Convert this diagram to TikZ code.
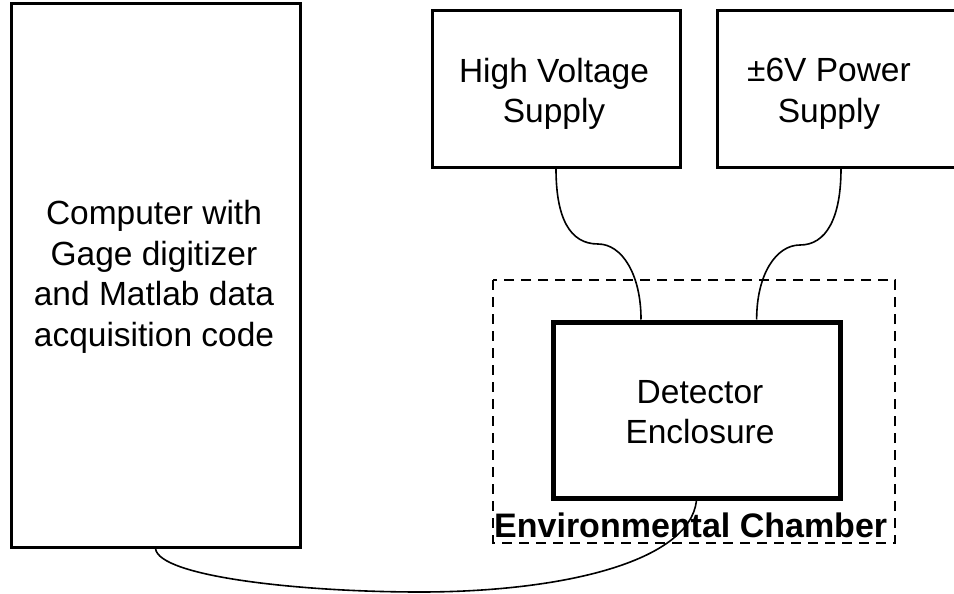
\documentclass[tikz,border=0pt]{standalone}
\usepackage{fontspec}
\setmainfont{Liberation Sans}
\usetikzlibrary{calc}
\tikzset{
  boxstyle/.style={draw=black, line width=3pt, inner sep=0pt, align=center,
    font=\fontsize{33.5}{40}\selectfont},
  boxtext/.style={align=center, inner sep=0pt, font=\fontsize{33.5}{40.5}\selectfont},
  detbox/.style={boxstyle, line width=5pt},
  cable/.style={draw=black, line width=1.6pt},
  chamber/.style={draw=black, line width=2pt, dash pattern=on 10pt off 7pt},
}
\begin{document}
\begin{tikzpicture}[x=1pt,y=-1pt]
\useasboundingbox (0,0) rectangle (954,594);
\clip (0,0) rectangle (954,594);
% boxes
\node[boxstyle, minimum width=289pt, minimum height=543pt] (pc) at (155.5,275.5) {};
\node[boxtext] (pctext) at (154,277)
  {Computer with\\Gage digitizer\\and Matlab data\\acquisition code};
\node[boxstyle, minimum width=248pt, minimum height=156pt] (hv) at (556,89) {};
\node[boxtext] (hvtext) at (554,94) {High Voltage\\Supply};
\node[boxstyle, minimum width=248pt, minimum height=156pt] (ps) at (841,89) {};
\node[boxtext] (pstext) at (829,94) {±6V Power\\Supply};
% chamber
\draw[chamber] (493,280) rectangle (895,543);
\node[anchor=base west, inner sep=0pt, font=\fontsize{34}{40}\selectfont\bfseries] (envlabel) at (494,537)
  {Environmental Chamber};
\node[detbox, minimum width=287pt, minimum height=176pt] (det) at (696.5,410) {};
\node[boxtext] (dettext) at (700,412) {Detector\\Enclosure};
% attachment points
\coordinate (dA) at ($(det.north west)!0.31!(det.north east)$);
\coordinate (dB) at ($(det.north west)!0.706!(det.north east)$);
\coordinate (dC) at ($(det.south west)!0.5!(det.south east)$);
% cables
\draw[cable] (hv.south) .. controls ++(0,50) and (570,244) .. (598,244)
  .. controls (622,244) and ($(dA)+(0,-45)$) .. (dA);
\draw[cable] (ps.south) .. controls ++(0,50) and (826,245) .. (800,245)
  .. controls (776,245) and ($(dB)+(0,-45)$) .. (dB);
\draw[cable] (pc.south) .. controls ++(3,28) and (300,592) .. (420,592)
  .. controls (560,592) and ($(dC)+(-7,62)$) .. (dC);
\end{tikzpicture}
\end{document}
